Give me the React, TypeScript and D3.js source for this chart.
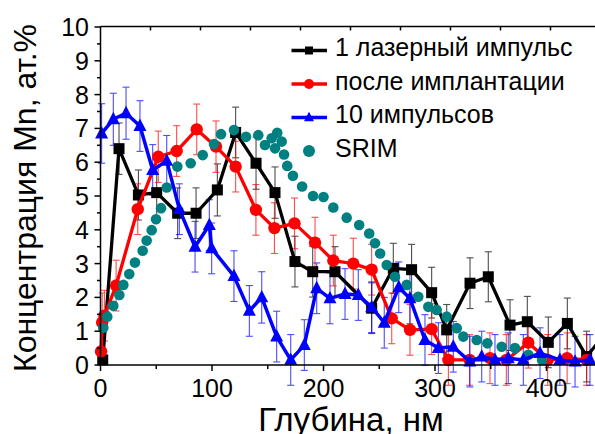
import React from "react";
import * as d3 from "d3";

// ---- data ----
const laserX = [2, 16.6, 34, 50.4, 69.2, 85.7, 104.8, 121.2, 139.5, 156.5, 174.4, 190.3, 210.3, 243.2, 262.6, 279, 297, 310.5, 331.4, 347.8, 367.3, 382.8, 401.6, 418.7, 436, 452];
const laserY = [0.15, 6.4, 5.03, 5.1, 4.49, 4.49, 5.18, 6.88, 5.97, 5.1, 3.06, 2.76, 2.76, 1.68, 2.86, 2.82, 2.14, 1.04, 2.42, 2.61, 1.18, 1.28, 0.67, 1.23, 0.25, 0.9];
const laserErr = [0.1, 0.76, 0.74, 0.75, 0.75, 0.75, 0.77, 0.75, 0.77, 0.76, 0.75, 0.75, 0.74, 0.75, 0.74, 0.75, 0.75, 0.75, 0.75, 0.74, 0.75, 0.75, 0.75, 0.75, 0.75, 0.75];

const implX = [0.5, 1.5, 3.5, 14, 33.4, 51.8, 68.3, 86.3, 103.6, 121.2, 139.4, 156, 174, 192.4, 208.8, 226.7, 243.2, 261.2, 277.6, 297, 312, 331, 349.3, 364, 383.7, 401, 418.5, 436];
const implY = [0.4, 1.26, 1.46, 2.35, 4.61, 6.16, 6.33, 6.97, 6.46, 5.87, 4.59, 4.05, 4.19, 3.62, 3.09, 3.0, 2.82, 1.38, 1.04, 1.06, 0.15, 0.15, 0.2, 0.15, 0.66, 0.15, 0.2, 0.15];
const implErr = [0, 0.87, 0.75, 0.75, 0.75, 0.76, 0.75, 0.75, 0.76, 0.75, 0.75, 0.75, 0.75, 0.75, 0.75, 0.75, 0.75, 0.75, 0.75, 0.75, 0.75, 0.75, 0.75, 0.75, 0.75, 0.75, 0.75, 0.75];

const pulsesX = [1, 11.5, 22.9, 35.4, 46.8, 59.4, 70.7, 84.8, 97.6, 99.7, 119.7, 133.5, 144.6, 158, 170.6, 182.8, 193.9, 205.8, 219.3, 231.2, 243.2, 254.5, 267.5, 277.5, 291, 303, 316.4, 331.3, 341.9, 353.8, 365.7, 379.2, 394.2, 412, 425.6, 439];
const pulsesY = [6.85, 7.27, 7.45, 7.07, 5.77, 6.04, 4.61, 3.5, 4.14, 3.45, 2.63, 1.6, 2.0, 0.84, 0.15, 0.59, 2.27, 1.97, 2.1, 2.07, 1.71, 1.25, 2.3, 1.97, 0.74, 0.5, 0.54, 0.1, 0.25, 0.15, 0.2, 0.15, 0.35, 0.15, 0.1, 0.15];
const pulsesErr = [0.88, 0.77, 0.77, 0.75, 0.75, 0.75, 0.75, 0.75, 0.75, 0.75, 0.75, 0.75, 0.76, 0.75, 0.75, 0.75, 0.75, 0.75, 0.75, 0.75, 0.75, 0.75, 0.75, 0.75, 0.75, 0.75, 0.75, 0.75, 0.75, 0.75, 0.75, 0.75, 0.75, 0.75, 0.75, 0.75];

const srimX = [2.5, 6.1, 11.5, 16.9, 20.5, 25.8, 30.9, 37.8, 41.4, 45.9, 49.8, 54.3, 59.4, 68.9, 80.9, 91.7, 101.8, 108.1, 119.7, 130.5, 141.5, 147.5, 153.5, 156.5, 158.5, 162.5, 164.6, 167.5, 172.6, 180.8, 190.6, 200, 208.8, 220.8, 232, 241, 246.2, 250.8, 256.7, 264.1, 274.6, 285, 294, 301.5, 310.5, 319.5, 325.4, 337.4, 347, 359.8, 371.7, 383.7, 396];
const srimY = [1.1, 1.43, 1.75, 2.07, 2.37, 2.69, 3.03, 3.38, 3.68, 3.99, 4.31, 4.64, 5.25, 5.87, 5.97, 6.21, 6.54, 6.83, 6.95, 6.75, 6.8, 6.51, 6.71, 6.41, 6.87, 6.61, 6.23, 5.89, 5.6, 5.28, 5.0, 4.97, 4.66, 4.36, 4.14, 3.89, 3.6, 3.3, 2.96, 2.61, 2.37, 2.02, 1.72, 1.63, 1.43, 1.09, 0.84, 0.74, 0.64, 0.54, 0.5, 0.3, 0.15];

const xTicksMajor = [0, 100, 200, 300, 400];
const xTicksMinor = [50, 150, 250, 350, 450];
const yTicksMajor = [0, 1, 2, 3, 4, 5, 6, 7, 8, 9, 10];
const topTicks = [50, 100, 150, 200, 250, 300, 350, 400, 450, 500];

const legendLabels = ["1 лазерный импульс", "после имплантации", "10 импульсов", "SRIM"];
const xTitle = "Глубина, нм";
const yTitle = "Концентрация Mn, ат.%";

const W = 595;
const H = 434;
const FONT = "'Liberation Sans', Arial, sans-serif";

const x = d3.scaleLinear().domain([0, 450]).range([100.5, 602.25]);
const y = d3.scaleLinear().domain([0, 10]).range([365, 27]);
const xTop = d3.scaleLinear().domain([0, 500]).range([100.5, 600.5]);

type Pt = { x: number; y: number; e: number };
const zip = (xs: number[], ys: number[], es: number[]): Pt[] => xs.map((v, i) => ({ x: v, y: ys[i], e: es[i] }));

const laser = zip(laserX, laserY, laserErr);
const impl = zip(implX, implY, implErr);
const pulses = zip(pulsesX, pulsesY, pulsesErr);
const srim = srimX.map((v, i) => ({ x: v, y: srimY[i] }));

const line = d3.line<Pt>().x((d) => x(d.x)).y((d) => y(d.y));

function ErrBars({ data, color, opacity }: { data: Pt[]; color: string; opacity: number }) {
  return (
    <g stroke={color} strokeWidth={1.1} opacity={opacity} fill="none">
      {data.filter((d) => d.e > 0).map((d, i) => {
        const cx = x(d.x);
        const t = y(d.y + d.e);
        const b = y(d.y - d.e);
        return (
          <g key={i}>
            <line x1={cx} x2={cx} y1={t} y2={b} />
            <line x1={cx - 3.5} x2={cx + 3.5} y1={t} y2={t} />
            <line x1={cx - 3.5} x2={cx + 3.5} y1={b} y2={b} />
          </g>
        );
      })}
    </g>
  );
}

const tri = (cx: number, cy: number, w: number) => {
  const h = w * 0.95;
  return `M${cx},${cy - h * 0.6}L${cx + w / 2},${cy + h * 0.4}L${cx - w / 2},${cy + h * 0.4}Z`;
};

export default function App() {
  const legendBase = [56, 89.5, 123, 156.5];
  return (
    <svg width={W} height={H} style={{ position: "absolute", left: 0, top: 0, background: "#fff" }} fontFamily={FONT}>
      <rect x={0} y={0} width={W} height={H} fill="#fff" />

      {/* error bars */}
      <ErrBars data={laser} color="#222" opacity={0.8} />
      <ErrBars data={impl} color="#ff0000" opacity={0.7} />
      <ErrBars data={pulses} color="#0000ff" opacity={0.7} />

      {/* black series */}
      <path d={line(laser) || ""} fill="none" stroke="#000" strokeWidth={3.3} strokeLinejoin="round" />
      {laser.map((d, i) => (
        <rect key={i} x={x(d.x) - 5.5} y={y(d.y) - 5.5} width={11} height={11} fill="#000" />
      ))}

      {/* red series */}
      <path d={line(impl) || ""} fill="none" stroke="#ff0000" strokeWidth={3.3} strokeLinejoin="round" />
      {impl.map((d, i) => (
        <circle key={i} cx={x(d.x)} cy={y(d.y)} r={6.2} fill="#ff0000" />
      ))}

      {/* SRIM */}
      {srim.map((d, i) => (
        <circle key={i} cx={x(d.x)} cy={y(d.y)} r={5.3} fill="#008080" />
      ))}

      {/* blue series */}
      <path d={line(pulses) || ""} fill="none" stroke="#0000ff" strokeWidth={3.5} strokeLinejoin="round" />
      {pulses.map((d, i) => (
        <path key={i} d={tri(x(d.x), y(d.y), 13)} fill="#0000ff" />
      ))}

      {/* axes */}
      <g stroke="#000" strokeWidth={1.5} fill="none">
        <line x1={x(0)} x2={W} y1={y(0)} y2={y(0)} />
        <line x1={x(0)} x2={x(0)} y1={y(0)} y2={y(10) - 0.5} />
        <line x1={x(0)} x2={W} y1={y(10) - 0.5} y2={y(10) - 0.5} />
        {xTicksMajor.map((t) => (
          <line key={"xM" + t} x1={x(t)} x2={x(t)} y1={y(0)} y2={y(0) + 6} />
        ))}
        {xTicksMinor.map((t) => (
          <line key={"xm" + t} x1={x(t)} x2={x(t)} y1={y(0)} y2={y(0) + 4} />
        ))}
        {yTicksMajor.map((t) => (
          <line key={"yM" + t} x1={x(0) - 6} x2={x(0)} y1={y(t)} y2={y(t)} />
        ))}
        {yTicksMajor.slice(0, -1).map((t) => (
          <line key={"ym" + t} x1={x(0) - 3.5} x2={x(0)} y1={y(t + 0.5)} y2={y(t + 0.5)} />
        ))}
        {topTicks.map((t) => (
          <line key={"tt" + t} x1={xTop(t)} x2={xTop(t)} y1={y(10) - 0.5} y2={y(10) + 3.5} />
        ))}
      </g>

      {/* tick labels */}
      <g fontSize={25} fill="#000">
        {xTicksMajor.map((t) => (
          <text key={"xl" + t} x={x(t)} y={397} textAnchor="middle">{t}</text>
        ))}
        {yTicksMajor.map((t) => (
          <text key={"yl" + t} x={89} y={y(t) + 9} textAnchor="end">{t}</text>
        ))}
      </g>

      {/* titles */}
      <text x={351} y={431} fontSize={33} textAnchor="middle" fill="#000">{xTitle}</text>
      <text transform={`translate(36,198) rotate(-90)`} fontSize={32} textAnchor="middle" fill="#000">{yTitle}</text>

      {/* legend */}
      <g>
        {legendLabels.map((lab, i) => {
          const by = legendBase[i];
          const sy = by - 5.5;
          const color = ["#000", "#ff0000", "#0000ff", "#008080"][i];
          return (
            <g key={lab}>
              {i < 3 && <line x1={291.5} x2={327} y1={sy} y2={sy} stroke={color} strokeWidth={3.3} />}
              {i === 0 && <rect x={309 - 4} y={sy - 4} width={8} height={8} fill="#000" />}
              {i === 1 && <circle cx={309} cy={sy} r={5} fill="#ff0000" />}
              {i === 2 && <path d={tri(309, sy, 10)} fill="#0000ff" />}
              {i === 3 && <circle cx={309} cy={sy} r={6} fill="#008080" />}
              <text x={335} y={by} fontSize={25} fill="#000">{lab}</text>
            </g>
          );
        })}
      </g>
    </svg>
  );
}
